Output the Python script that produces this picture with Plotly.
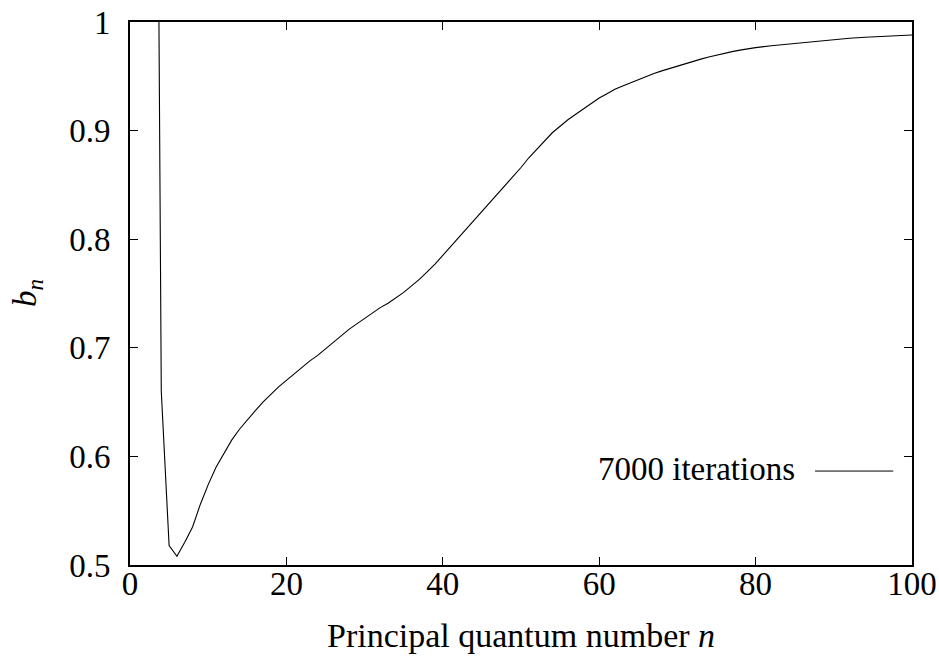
import plotly.graph_objects as go

# Principal quantum number n and departure coefficient b_n (7000 iterations)
n_values = list(range(3, 81)) + [82, 84, 86, 88, 90, 92, 94, 96, 98, 100]
b_values = [1.80, 0.660, 0.518, 0.508, 0.521, 0.535, 0.556, 0.574, 0.590, 0.603,   # 3-12
            0.615, 0.625, 0.634, 0.642, 0.650, 0.657, 0.664, 0.670, 0.676, 0.682,   # 13-22
            0.688, 0.693, 0.699, 0.705, 0.711, 0.717, 0.722, 0.727, 0.732, 0.737,   # 23-32
            0.741, 0.746, 0.751, 0.757, 0.763, 0.770, 0.777, 0.785, 0.793, 0.801,   # 33-42
            0.809, 0.817, 0.825, 0.834, 0.842, 0.850, 0.858, 0.866, 0.875, 0.883,   # 43-52
            0.891, 0.898, 0.904, 0.910, 0.915, 0.920, 0.925, 0.930, 0.934, 0.938,   # 53-62
            0.941, 0.944, 0.947, 0.950, 0.9525, 0.955, 0.9573, 0.9595, 0.9617, 0.9638,  # 63-72
            0.9658, 0.9677, 0.9695, 0.9712, 0.9727, 0.9741, 0.9754, 0.9764,         # 73-80
            0.9781, 0.9796, 0.981, 0.9825, 0.9838, 0.985, 0.986, 0.9868, 0.9875, 0.988]  # 82-100
x_ticks = [0, 20, 40, 60, 80, 100]
y_ticks = [0.5, 0.6, 0.7, 0.8, 0.9, 1.0]
y_tick_text = ["0.5", "0.6", "0.7", "0.8", "0.9", "1"]
series_name = "7000 iterations"

FONT = "Liberation Serif"
FS = 33

fig = go.Figure()
fig.add_trace(go.Scatter(x=n_values, y=b_values, mode="lines",
                         line=dict(color="black", width=1.1),
                         name=series_name, showlegend=False))

axis_common = dict(showline=True, linecolor="black", linewidth=1.6, mirror="ticks",
                   ticks="inside", ticklen=8, tickwidth=1.2, tickcolor="black",
                   showgrid=False, zeroline=False, automargin=False,
                   tickfont=dict(family=FONT, size=FS, color="black"))

fig.update_layout(
    width=939, height=657,
    margin=dict(l=130, r=27, t=22, b=92),
    paper_bgcolor="white", plot_bgcolor="white",
    showlegend=False,
    xaxis=dict(range=[0, 100], tickvals=x_ticks, ticklabelstandoff=-11, **axis_common),
    yaxis=dict(range=[0.5, 1.0], tickvals=y_ticks, ticktext=y_tick_text,
               ticklabelstandoff=11, **axis_common),
    annotations=[
        dict(text="Principal quantum number <i>n</i>", xref="paper", yref="paper",
             x=0.5, y=-0.13, xanchor="center", yanchor="middle", showarrow=False,
             font=dict(family=FONT, size=FS + 1, color="black")),
        dict(text="<i>b<sub>n</sub></i>", xref="paper", yref="paper",
             x=-0.131, y=0.5, xanchor="center", yanchor="middle", showarrow=False,
             textangle=-90, font=dict(family=FONT, size=FS, color="black")),
        dict(text=series_name, xref="paper", yref="paper",
             x=0.853, y=0.177, xanchor="right", yanchor="middle", showarrow=False,
             font=dict(family=FONT, size=FS, color="black")),
    ],
    shapes=[
        dict(type="line", xref="paper", yref="paper", x0=0.876, x1=0.976,
             y0=0.173, y1=0.173, line=dict(color="black", width=1)),
    ],
)

fig.write_html("out.html")
